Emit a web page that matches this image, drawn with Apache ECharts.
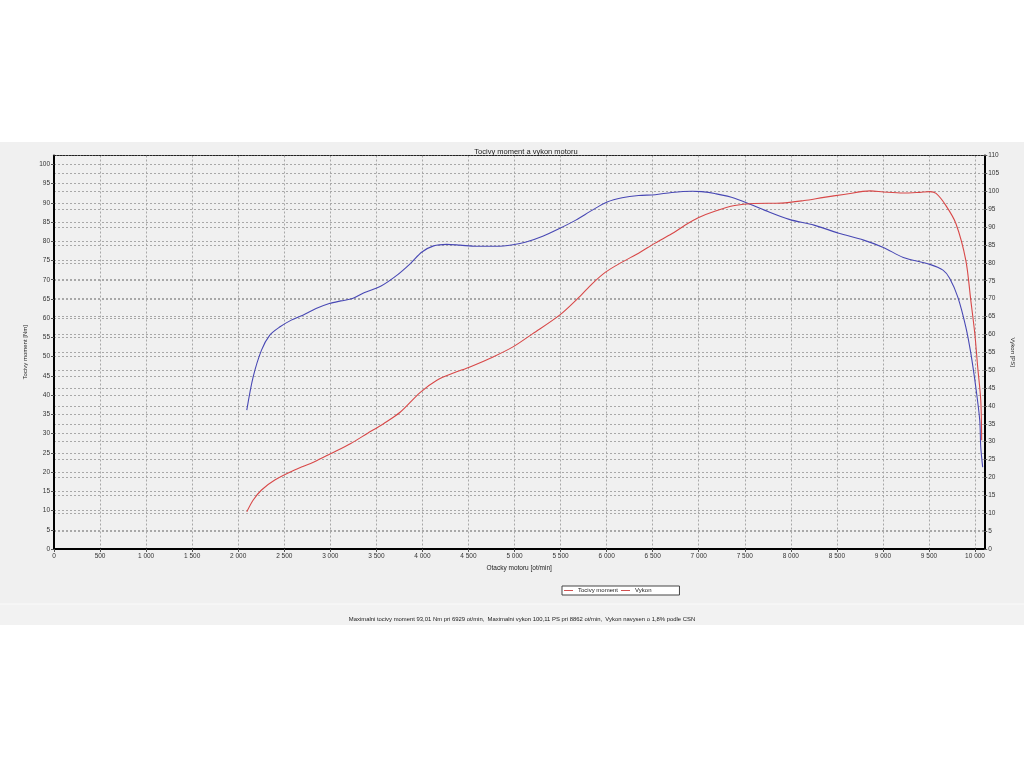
<!DOCTYPE html>
<html>
<head>
<meta charset="utf-8">
<script src="https://cdn.jsdelivr.net/npm/echarts@6/dist/echarts.min.js"></script>
<style>
html,body{margin:0;padding:0;background:#fff;}
#c{width:1024px;height:768px;}
</style>
</head>
<body>
<div id="c"></div>
<script>
// Torque (Nm) curve - blue, left axis
const torqueRpm = [2093,2163,2253,2343,2450,2576,2702,2845,2989,3114,3240,3366,3546,3725,3869,3995,4121,4264,4408,4587,4803,4983,5126,5306,5486,5665,5845,6006,6168,6347,6527,6707,6929,7030,7174,7389,7713,7982,8251,8521,8790,9005,9221,9509,9652,9724,9813,9900,9954,10008,10051,10062,10083];
const torqueNm  = [36.1,44.8,51.7,55.6,57.7,59.5,60.8,62.5,63.8,64.5,65.1,66.6,68.3,71.2,74.2,77.2,78.8,79.2,79.0,78.7,78.7,79.1,79.8,81.3,83.3,85.5,88.1,90.2,91.3,91.9,92.1,92.7,93.0,92.9,92.4,91.2,88.1,85.7,84.2,82.1,80.3,78.4,75.8,74.0,72.5,70.4,65.5,57.7,50.9,42.1,33.5,26.5,21.3];
// Power (PS) curve - red, right axis
const powerRpm = [2093,2163,2253,2397,2612,2828,3007,3222,3402,3582,3761,3977,4157,4336,4516,4767,4983,5198,5486,5701,5845,5988,6168,6347,6527,6707,6850,6994,7174,7389,7600,7900,8143,8359,8574,8862,9005,9221,9400,9509,9577,9684,9792,9900,9954,9997,10029,10062,10072];
const powerPs  = [10.4,13.7,16.5,19.3,22.1,24.4,26.7,29.5,32.3,35.1,38.3,43.8,47.2,49.2,50.9,53.7,56.5,60.2,65.3,70.4,74.2,77.4,80.2,82.7,85.5,88.1,90.5,92.6,94.4,96.0,96.6,96.7,97.4,98.3,99.1,100.1,99.8,99.5,99.7,99.9,99.4,96.0,91.0,80.7,69.5,60.3,50.8,41.6,30.4];

const titleText = 'Tocivy moment a vykon motoru';
const seriesNames = ['Tocivy moment', 'Vykon'];
const footerText = 'Maximalni tocivy moment 93,01 Nm pri 6929 ot/min,  Maximalni vykon 100,11 PS pri 8862 ot/min,  Vykon navysen o 1,8% podle CSN';

const torqueData = torqueRpm.map((r, i) => [r, torqueNm[i]]);
const powerData = powerRpm.map((r, i) => [r, powerPs[i]]);

const FONT = 'Liberation Sans, Arial, sans-serif';
const gridLine = { show: true, lineStyle: { color: '#a8a8a8', type: [2, 2], width: 1 } };
const lbl = { fontSize: 6.5, color: '#333', fontFamily: FONT };

const chart = echarts.init(document.getElementById('c'), null, { renderer: 'canvas' });
chart.setOption({
  animation: false,
  backgroundColor: '#ffffff',
  textStyle: { fontFamily: FONT },
  graphic: [
    { type: 'rect', z: -10, silent: true, shape: { x: 0, y: 142, width: 1024, height: 462 }, style: { fill: '#f0f0f0' } },
    { type: 'rect', z: -10, silent: true, shape: { x: 0, y: 604, width: 1024, height: 21 }, style: { fill: '#f2f2f2' } },
    { type: 'line', z: -9, silent: true, shape: { x1: 0, y1: 604, x2: 1024, y2: 604 }, style: { stroke: '#fafafa', lineWidth: 1 } },
    { type: 'text', silent: true, x: 522, y: 616, style: { text: footerText, fontSize: 5.9, fill: '#222', fontFamily: FONT, align: 'center' } }
  ],
  title: {
    text: titleText, left: 521, top: 143, textAlign: 'center',
    textStyle: { fontSize: 7.5, fontWeight: 'normal', color: '#222', fontFamily: FONT }
  },
  legend: {
    data: [
      { name: seriesNames[0], itemStyle: { color: '#d05050' } },
      { name: seriesNames[1], itemStyle: { color: '#d05050' } }
    ],
    icon: 'rect',
    left: 562, top: 586, orient: 'horizontal',
    itemWidth: 9, itemHeight: 1, itemGap: 3,
    padding: [1.5, 28, 1.5, 2],
    borderColor: '#444', borderWidth: 1, backgroundColor: '#ffffff',
    textStyle: { fontSize: 6, color: '#222', fontFamily: FONT }
  },
  grid: { left: 54, right: 33, top: 155.5, bottom: 219, containLabel: false },
  xAxis: [
    {
      type: 'value', min: 0, max: 10100, interval: 500,
      name: 'Otacky motoru [ot/min]', nameLocation: 'middle', nameGap: 14,
      nameTextStyle: { fontSize: 6.5, color: '#222', fontFamily: FONT },
      axisLine: { show: true, onZero: false, lineStyle: { color: '#000', width: 2 } },
      axisTick: { show: true, length: 3, lineStyle: { color: '#555' } },
      axisLabel: Object.assign({}, lbl, {
        margin: 4, showMaxLabel: false,
        formatter: v => (v % 500 === 0 ? String(v).replace(/\B(?=(\d{3})+(?!\d))/g, ' ') : '')
      }),
      splitLine: gridLine
    },
    {
      type: 'value', min: 0, max: 10100, position: 'top',
      axisLine: { show: true, onZero: false, lineStyle: { color: '#222', width: 1, type: [2, 1] } },
      axisTick: { show: false }, axisLabel: { show: false }, splitLine: { show: false }
    }
  ],
  yAxis: [
    {
      type: 'value', min: 0, max: 102.3, interval: 5, position: 'left',
      name: 'Tocivy moment [Nm]', nameLocation: 'middle', nameGap: 23, nameRotate: 90,
      nameTextStyle: { fontSize: 6, color: '#222', fontFamily: FONT },
      axisLine: { show: true, onZero: false, lineStyle: { color: '#000', width: 2 } },
      axisTick: { show: true, length: 3, lineStyle: { color: '#555' } },
      axisLabel: Object.assign({}, lbl, { margin: 4, showMaxLabel: false, formatter: v => (v % 5 === 0 ? String(v) : '') }),
      splitLine: gridLine
    },
    {
      type: 'value', min: 0, max: 110, interval: 5, position: 'right',
      name: 'Vykon [PS]', nameLocation: 'middle', nameGap: 20, nameRotate: -90,
      nameTextStyle: { fontSize: 6, color: '#222', fontFamily: FONT },
      axisLine: { show: true, onZero: false, lineStyle: { color: '#000', width: 2 } },
      axisTick: { show: true, length: 3, lineStyle: { color: '#555' } },
      axisLabel: Object.assign({}, lbl, { margin: 4 }),
      splitLine: gridLine
    }
  ],
  series: [
    {
      name: seriesNames[0], type: 'line', xAxisIndex: 0, yAxisIndex: 0,
      data: torqueData, smooth: 0.3, showSymbol: false, symbol: 'none',
      lineStyle: { color: '#4848b4', width: 1.1 }, itemStyle: { color: '#4848b4' }, z: 3
    },
    {
      name: seriesNames[1], type: 'line', xAxisIndex: 0, yAxisIndex: 1,
      data: powerData, smooth: 0.3, showSymbol: false, symbol: 'none',
      lineStyle: { color: '#d84848', width: 1.1 }, itemStyle: { color: '#d84848' }, z: 3
    }
  ]
});
</script>
</body>
</html>
